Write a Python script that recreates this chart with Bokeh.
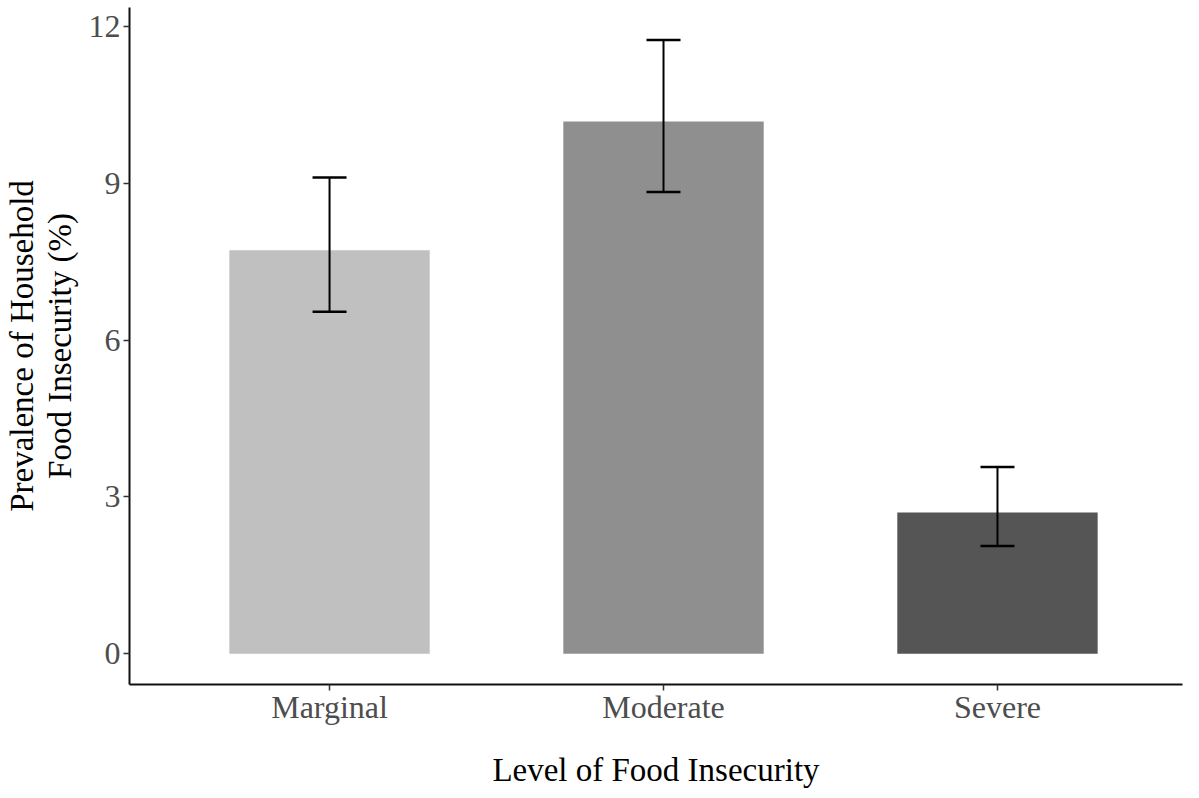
from bokeh.plotting import figure
from bokeh.models import Range1d, FixedTicker, ColumnDataSource, Whisker, TeeHead
from bokeh.embed import file_html
from bokeh.resources import INLINE

# ---- data ----
categories = ["Marginal", "Moderate", "Severe"]
prevalence = [7.72, 10.18, 2.70]
ci_lower = [6.54, 8.83, 2.06]
ci_upper = [9.11, 11.74, 3.57]
y_ticks = [0, 3, 6, 9, 12]

# ---- style ----
bar_colors = ["#C0C0C0", "#8F8F8F", "#555555"]
FONT = "Liberation Serif"

xpos = list(range(1, len(categories) + 1))
src = ColumnDataSource(dict(x=xpos, top=prevalence, lower=ci_lower,
                            upper=ci_upper, color=bar_colors))

p = figure(width=1183, height=790, output_backend="svg", toolbar_location=None,
           x_range=Range1d(0.401, 3.554), y_range=Range1d(-0.59, 12.362),
           min_border_left=122, min_border_bottom=103, min_border_top=7,
           min_border_right=1)
p.outline_line_color = None
p.xgrid.grid_line_color = None
p.ygrid.grid_line_color = None
p.background_fill_color = "white"
p.border_fill_color = "white"

p.vbar(x="x", top="top", bottom=0, width=0.6, fill_color="color",
       line_color=None, source=src)

w = Whisker(base="x", lower="lower", upper="upper", source=src,
            line_color="black", line_width=2, level="annotation",
            upper_head=TeeHead(size=34, line_color="black", line_width=2.5),
            lower_head=TeeHead(size=34, line_color="black", line_width=2.5))
p.add_layout(w)

p.xaxis.ticker = FixedTicker(ticks=xpos)
p.xaxis.major_label_overrides = {x: c for x, c in zip(xpos, categories)}
p.yaxis.ticker = FixedTicker(ticks=y_ticks)

for ax in (p.xaxis[0], p.yaxis[0]):
    ax.axis_line_color = "#111111"
    ax.axis_line_width = 2
    ax.major_tick_line_color = "#333333"
    ax.major_tick_line_width = 1.5
    ax.major_tick_out = 6
    ax.major_tick_in = 0
    ax.minor_tick_line_color = None
    ax.major_label_text_font = FONT
    ax.major_label_text_font_size = "32px"
    ax.major_label_text_color = "#4D4D4D"
    ax.axis_label_text_font = FONT
    ax.axis_label_text_font_size = "33px"
    ax.axis_label_text_font_style = "normal"
    ax.axis_label_text_color = "black"

p.xaxis.axis_label = "Level of Food Insecurity"
p.xaxis.axis_label_text_line_height = 1.0
p.xaxis.major_label_standoff = -2
p.xaxis.axis_label_standoff = 24

p.yaxis.axis_label = "Prevalence of Household\nFood Insecurity (%)"
p.yaxis.axis_label_text_line_height = 1.05
p.yaxis.axis_label_text_align = "center"
p.yaxis.major_label_standoff = 3
p.yaxis.axis_label_standoff = 8

open("out.html", "w").write(file_html(p, INLINE))
